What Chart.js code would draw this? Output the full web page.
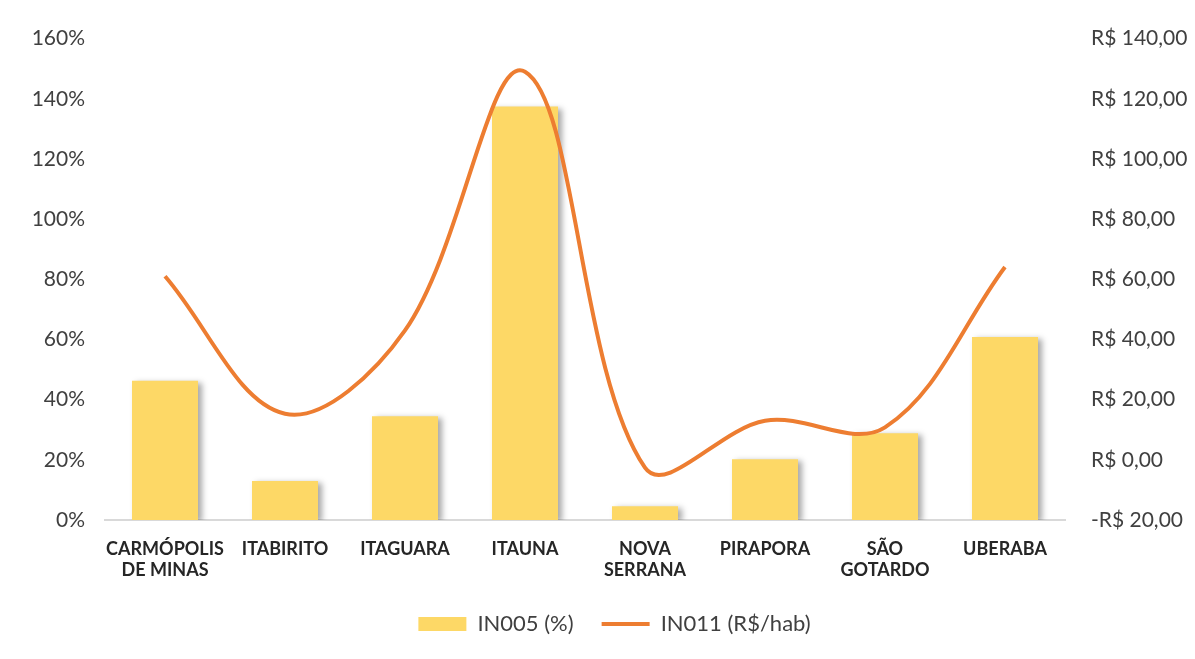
<!DOCTYPE html>
<html>
<head>
<meta charset="utf-8">
<script src="https://cdn.jsdelivr.net/npm/chart.js@4"></script>
<style>
  html, body { margin: 0; padding: 0; background: #fff; }
  #wrap { width: 1195px; height: 659px; }
</style>
</head>
<body>
<div id="wrap"><canvas id="grafico" width="1195" height="659"></canvas></div>
<script>
const municipios = [
  ['CARMÓPOLIS', 'DE MINAS'], 'ITABIRITO', 'ITAGUARA', 'ITAUNA',
  ['NOVA', 'SERRANA'], 'PIRAPORA', ['SÃO', 'GOTARDO'], 'UBERABA'
];
const in005 = [46.3, 13, 34.5, 137.4, 4.6, 20.2, 28.8, 60.8];
const in011 = [61, 15.3, 43, 129, -2.6, 13, 10.8, 64.1];
const ticksPct = [0, 20, 40, 60, 80, 100, 120, 140, 160];
const ticksReais = [-20, 0, 20, 40, 60, 80, 100, 120, 140];

const fonte = "Lato, 'Open Sans', sans-serif";

function formatReais(v) {
  const s = 'R$ ' + Math.abs(v).toFixed(2).replace('.', ',');
  return v < 0 ? '-' + s : s;
}

// sombra cinza so nas barras, como no Excel
const sombraBarras = {
  id: 'sombraBarras',
  beforeDatasetDraw(chart, args) {
    if (chart.data.datasets[args.index].type !== 'bar') return;
    const ctx = chart.ctx;
    ctx.save();
    ctx.shadowColor = 'rgba(0,0,0,0.35)';
    ctx.shadowBlur = 6;
    ctx.shadowOffsetX = 4;
    ctx.shadowOffsetY = 2;
  },
  afterDatasetDraw(chart, args) {
    if (chart.data.datasets[args.index].type !== 'bar') return;
    chart.ctx.restore();
  }
};

// legenda um pouco deslocada pra direita, como no original
const moveLegenda = {
  id: 'moveLegenda',
  afterLayout(chart) {
    chart.legend.left += 17;
    chart.legend.right += 17;
  }
};

const ctx = document.getElementById('grafico').getContext('2d');
new Chart(ctx, {
  data: {
    labels: municipios,
    datasets: [
      {
        type: 'line',
        label: 'IN011 (R$/hab)',
        data: in011,
        yAxisID: 'y1',
        borderColor: '#ED7D31',
        backgroundColor: '#ED7D31',
        borderWidth: 4,
        pointRadius: 0,
        pointStyle: 'line',
        tension: 0.36,
        order: 0
      },
      {
        type: 'bar',
        label: 'IN005 (%)',
        data: in005,
        yAxisID: 'y',
        backgroundColor: '#FDD866',
        pointStyle: 'rect',
        categoryPercentage: 1,
        barPercentage: 0.55,
        order: 1
      }
    ]
  },
  options: {
    responsive: false,
    animation: false,
    layout: { padding: { top: 33, bottom: 14, left: 0, right: 0 } },
    plugins: {
      legend: {
        position: 'bottom',
        reverse: true,
        labels: {
          usePointStyle: true,
          pointStyleWidth: 48,
          boxHeight: 14,
          padding: 28,
          color: '#404040',
          font: { family: fonte, size: 22 }
        }
      },
      tooltip: { enabled: false }
    },
    scales: {
      x: {
        grid: { display: false, drawTicks: false },
        border: { color: '#D9D9D9', width: 2 },
        ticks: {
          color: '#262626',
          padding: 18,
          maxRotation: 0,
          autoSkip: false,
          font: { family: fonte, size: 18, weight: 'bold', lineHeight: 1.2 }
        },
        afterFit(scale) { scale.height = 65; }
      },
      y: {
        position: 'left',
        min: 0,
        max: 160,
        afterBuildTicks(scale) { scale.ticks = ticksPct.map(v => ({ value: v })); },
        grid: { display: false, drawTicks: false },
        border: { display: false },
        ticks: {
          color: '#404040',
          padding: 20,
          font: { family: fonte, size: 21 },
          callback: v => v + '%'
        },
        afterFit(scale) { scale.width = 105; }
      },
      y1: {
        position: 'right',
        min: -20,
        max: 140,
        afterBuildTicks(scale) { scale.ticks = ticksReais.map(v => ({ value: v })); },
        grid: { display: false, drawTicks: false },
        border: { display: false },
        ticks: {
          color: '#404040',
          padding: 26,
          font: { family: fonte, size: 21 },
          callback: v => formatReais(v)
        },
        afterFit(scale) { scale.width = 130; }
      }
    }
  },
  plugins: [sombraBarras, moveLegenda]
});
</script>
</body>
</html>
